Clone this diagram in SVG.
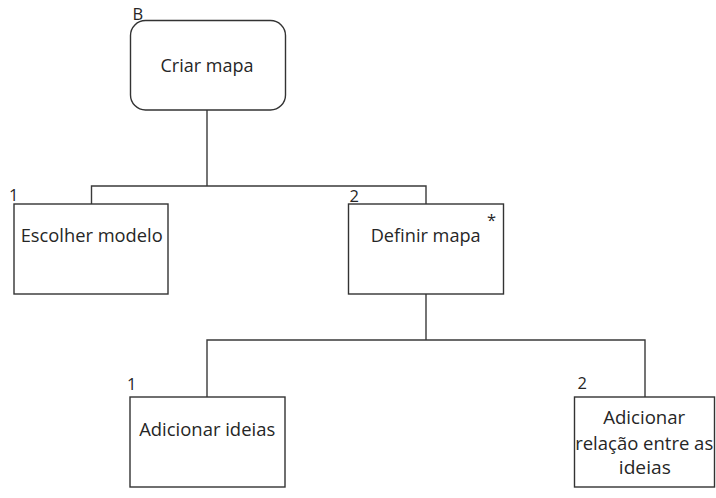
<svg xmlns="http://www.w3.org/2000/svg" width="716" height="498" viewBox="0 0 716 498">
  <style>
    .box { fill: #ffffff; stroke: #333333; stroke-width: 1.4; }
    .wire { fill: none; stroke: #3a3a3a; stroke-width: 1.4; }
    .label { font-family: "Open Sans", "Liberation Sans", sans-serif; font-size: 18.5px; fill: #262626; text-anchor: middle; }
    .num { font-family: "Open Sans", "Liberation Sans", sans-serif; font-size: 16.5px; fill: #262626; }
  </style>
  <rect width="716" height="498" fill="#ffffff"/>

  <!-- tree connectors -->
  <g id="connectors">
    <polyline class="wire" points="207,110 207,186"/>
    <polyline class="wire" points="91.5,204 91.5,186 426,186 426,204"/>
    <polyline class="wire" points="426,294 426,340"/>
    <polyline class="wire" points="207,397 207,340 645,340 645,397"/>
  </g>

  <g id="criar-mapa">
    <rect class="box" x="130.5" y="20.5" width="155" height="89.5" rx="15" ry="15"/>
    <text class="label" x="207" y="71.5" textLength="93" lengthAdjust="spacingAndGlyphs">Criar mapa</text>
    <text class="num" x="132.5" y="20">B</text>
  </g>

  <g id="escolher-modelo">
    <rect class="box" x="14" y="204" width="154" height="90"/>
    <text class="label" x="91.7" y="241.5" textLength="142" lengthAdjust="spacingAndGlyphs">Escolher modelo</text>
    <text class="num" x="9" y="201">1</text>
  </g>

  <g id="definir-mapa">
    <rect class="box" x="348.5" y="204" width="155" height="90"/>
    <text class="label" x="425.7" y="241.5" textLength="110" lengthAdjust="spacingAndGlyphs">Definir mapa</text>
    <text class="num" x="349.5" y="202">2</text>
    <text class="num" x="487" y="226" font-size="14">*</text>
  </g>

  <g id="adicionar-ideias">
    <rect class="box" x="130" y="397" width="155" height="90"/>
    <text class="label" x="207.2" y="436" textLength="136" lengthAdjust="spacingAndGlyphs">Adicionar ideias</text>
    <text class="num" x="127" y="390">1</text>
  </g>

  <g id="adicionar-relacao">
    <rect class="box" x="574.5" y="397" width="140" height="90"/>
    <text class="label" x="644.2" y="424" textLength="82" lengthAdjust="spacingAndGlyphs">Adicionar</text>
    <text class="label" x="644.2" y="450" textLength="138" lengthAdjust="spacingAndGlyphs">relação entre as</text>
    <text class="label" x="644.8" y="474" textLength="52" lengthAdjust="spacingAndGlyphs">ideias</text>
    <text class="num" x="577.5" y="389">2</text>
  </g>
</svg>
